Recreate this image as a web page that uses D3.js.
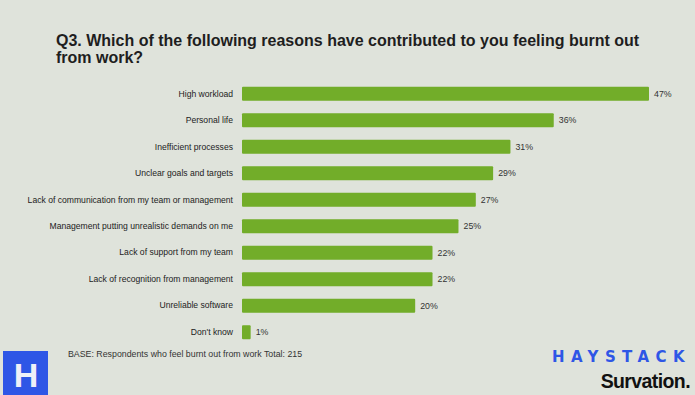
<!DOCTYPE html>
<html>
<head>
<meta charset="utf-8">
<script src="https://cdn.jsdelivr.net/npm/d3@7"></script>
<style>
  html, body { margin: 0; padding: 0; background: #dfe3db; }
  svg { display: block; font-family: "Liberation Sans", Arial, sans-serif; }
</style>
</head>
<body>
<div id="chart"></div>
<script>
// ─── Data ─────────────────────────────────────────────────────────────────────
const reasons = [
  "High workload",
  "Personal life",
  "Inefficient processes",
  "Unclear goals and targets",
  "Lack of communication from my team or management",
  "Management putting unrealistic demands on me",
  "Lack of support from my team",
  "Lack of recognition from management",
  "Unreliable software",
  "Don't know"
];
const shares = [47, 36, 31, 29, 27, 25, 22, 22, 20, 1];
const titleLines = [
  "Q3. Which of the following reasons have contributed to you feeling burnt out",
  "from work?"
];
const baseNote = "BASE: Respondents who feel burnt out from work Total: 215";

const W = 695, H = 395;
const margin = { top: 81, left: 242, right: 46, bottom: 51 };

const svg = d3.select("#chart").append("svg")
  .attr("width", W).attr("height", H);

svg.append("rect").attr("width", W).attr("height", H).attr("fill", "#dfe3db");

// title
svg.append("g").selectAll("text").data(titleLines).join("text")
  .attr("x", 56).attr("y", (d, i) => 46 + i * 16.5)
  .attr("font-size", 16).attr("font-weight", "bold").attr("fill", "#1e1e1e")
  .text((d) => d);

const data = reasons.map((r, i) => ({ reason: r, value: shares[i] }));

const x = d3.scaleLinear().domain([0, 47]).range([margin.left, 649]);
const y = d3.scaleBand().domain(reasons).range([margin.top, H - margin.bottom]).paddingInner(0.47).paddingOuter(0.2);

const g = svg.append("g");

g.selectAll("rect.bar").data(data).join("rect")
  .attr("class", "bar")
  .attr("x", x(0)).attr("y", (d) => y(d.reason) + 0.5)
  .attr("width", (d) => x(d.value) - x(0))
  .attr("height", y.bandwidth())
  .attr("rx", 1)
  .attr("fill", "#72ad29");

// category labels
g.append("g").attr("transform", `translate(${margin.left - 9},0.5)`)
  .call(d3.axisLeft(y).tickSize(0).tickPadding(0))
  .call((a) => a.select(".domain").remove())
  .call((a) => a.selectAll("text")
    .attr("font-size", 8.6).attr("fill", "#222").attr("font-family", "Liberation Sans, Arial, sans-serif"));

// value labels
g.selectAll("text.val").data(data).join("text")
  .attr("class", "val")
  .attr("x", (d) => x(d.value) + 5)
  .attr("y", (d) => y(d.reason) + y.bandwidth() / 2 + 0.5)
  .attr("dy", "0.35em")
  .attr("font-size", 8.8).attr("fill", "#333")
  .text((d) => d.value + "%");

// footer note
svg.append("text").attr("x", 68).attr("y", 357)
  .attr("font-size", 8.8).attr("fill", "#333").text(baseNote);

// H logo
svg.append("rect").attr("x", 3).attr("y", 351).attr("width", 45).attr("height", 44).attr("fill", "#2e56e6");
svg.append("text").attr("x", 26).attr("y", 387).attr("text-anchor", "middle")
  .attr("font-size", 34).attr("font-weight", "bold").attr("fill", "#eef0f8").text("H");

// brand marks
svg.append("text").attr("x", 691).attr("y", 362).attr("text-anchor", "end")
  .attr("font-size", 15).attr("font-weight", "bold").attr("letter-spacing", 6.4)
  .attr("font-family", "DejaVu Sans, sans-serif")
  .attr("fill", "#2e56e6").text("HAYSTACK");
svg.append("text").attr("x", 690).attr("y", 388).attr("text-anchor", "end")
  .attr("font-size", 19.5).attr("font-weight", "bold").attr("letter-spacing", -0.6)
  .attr("fill", "#111").text("Survation.");
</script>
</body>
</html>
